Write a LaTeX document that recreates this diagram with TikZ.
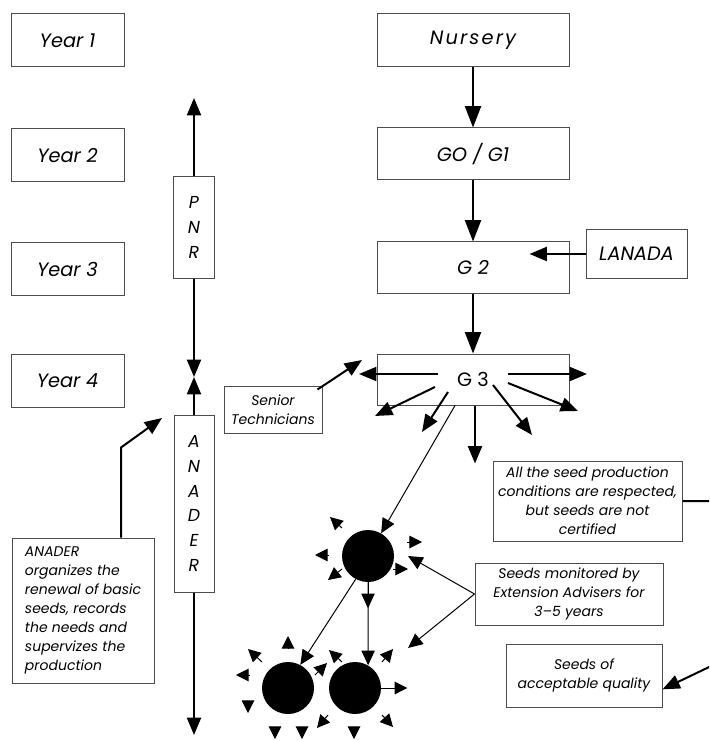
\documentclass[tikz,border=0pt]{standalone}
\usepackage{fontspec}
\setmainfont{Poppins}
\usetikzlibrary{arrows.meta}

\newcommand\bigtxt{\fontsize{14.5pt}{17pt}\selectfont\itshape}
\newcommand\smalltxt{\fontsize{10.5pt}{14.25pt}\selectfont\itshape}
\newcommand\lettxt{\fontsize{13pt}{18.5pt}\selectfont\itshape}

\begin{document}
\begin{tikzpicture}[x=0.75pt,y=0.75pt,yscale=-1,xscale=1,
  box/.style={draw=black!70, line width=0.75pt, inner sep=0pt, align=center, font=\bigtxt},
  yearbox/.style={box, minimum width=84.75pt, minimum height=39.75pt},
  genbox/.style={box, minimum width=144pt, minimum height=39pt},
  notebox/.style={box, font=\smalltxt},
  flow/.style={line width=1.5pt, -{Triangle[length=16pt,width=12pt]}},
  arr/.style={line width=1.5pt, -{Triangle[length=13pt,width=10.5pt]}},
  thinarr/.style={line width=0.75pt, -{Triangle[length=11pt,width=10pt]}},
  spark/.style={line width=0.75pt, -{Triangle[length=9.5pt,width=9.5pt]}},
  seed/.style={circle, fill=black, minimum size=39pt, inner sep=0pt}]
\useasboundingbox (0,0) rectangle (709,741);
\clip (0,0) rectangle (709,741);

% Year boxes
\node[yearbox] (year1) at (67.5,40.5) {Year 1};
\node[yearbox] (year2) at (67.5,155.5) {Year 2};
\node[yearbox] (year3) at (67.5,269) {Year 3};
\node[yearbox] (year4) at (67.5,380.5) {Year 4};

% Generations
\node[genbox, minimum height=39.75pt] (nursery) at (473,40.5) {\addfontfeature{LetterSpace=11}Nursery};
\node[genbox] (g01) at (473,154) {GO / G1};
\node[genbox, minimum height=38.25pt] (g2) at (473,267.5) {G 2};
\node[genbox, minimum height=38.25pt, font=\bigtxt\upshape] (g3) at (473,379.5) {G 3};
\node[box, minimum width=75.75pt, minimum height=36pt] (lanada) at (636.5,254) {LANADA};

% PNR / ANADER
\node[box, font=\lettxt, minimum width=30.75pt, minimum height=75.75pt] (pnr) at (194,227.5) {P\\N\\R};
\node[box, font=\lettxt, minimum width=30pt, minimum height=132.75pt] (anader) at (194,503.5) {A\\N\\A\\D\\E\\R};

% Text Node
\node[notebox, minimum width=73.5pt, minimum height=35.25pt] (senior) at (273,409.5) {Senior\\Technicians};
% Text Node
\node[notebox, align=left, minimum width=106.5pt, minimum height=108.75pt] (plan) at (83,610.5) {ANADER\\organizes the\\renewal of basic\\seeds, records\\the needs and\\supervizes the\\production};
% Text Node
\node[notebox, minimum width=141.75pt, minimum height=60pt] (allseed) at (587.5,501) {All the seed production\\conditions are respected,\\but seeds are not\\certified};
% Text Node
\node[notebox, minimum width=141pt, minimum height=46.5pt] (monitor) at (569,594) {Seeds monitored by\\Extension Advisers for\\3--5 years};
% Text Node
\node[notebox, minimum width=117pt, minimum height=47.25pt] (quality) at (584,675.5) {Seeds of\\acceptable quality};

% Seed lots
\node[seed] (c1) at (368,556) {};
\node[seed] (c2) at (288,688) {};
\node[seed] (c3) at (355,688) {};

\coordinate (pnrtop) at (194,98);
\coordinate (meet) at (194,377);
\coordinate (anaderend) at (194,735);
\coordinate (plantip) at (162,418);
\coordinate (seniortip) at (362,360);
\coordinate (mon1) at (408,556);
\coordinate (mon2) at (408,648);
\coordinate (offedge) at (730,657);

%Straight Lines
\draw[flow] (nursery) -- (g01);
\draw[flow] (g01) -- (g2);
\draw[flow] (g2) -- (g3);
\draw[arr] (lanada.west) -- ++(-56,0);
\draw[arr] (pnr.north) -- (pnrtop);
\draw[arr] (pnr.south) -- (meet);
\draw[arr] (anader.north) -- (meet);
\draw[arr] (anader.south) -- (anaderend);
\draw[arr] ([xshift=28.5pt]plan.north) -- ++(0,-90) -- (plantip);
\draw[arr] (senior.north east) ++(-5,4) -- (seniortip);
\draw[arr] (allseed.east) -| (offedge) -- (quality.-10.5);

% out of G 3
\draw[arr] (g3.center) ++(-35,-5.5) -- ++(-79,0);
\draw[arr] (g3.center) ++(35,-5.5) -- ++(79,0);
\draw[arr] (g3.center) ++(-38,7.5) -- ++(-60,29);
\draw[arr] (g3.center) ++(-25,12.5) -- ++(-26,40);
\draw[arr] (g3.south) ++(2,0) -- ++(0,58);
\draw[arr] (g3.center) ++(20,5.5) -- ++(39,50);
\draw[arr] (g3.center) ++(35,3.5) -- ++(70,28);

\draw[thinarr] (g3.south) ++(-18,0) -- (c1);
\draw[thinarr] (c1.south) -- ++(0,26);
\draw[thinarr] (c1.south) -- (c3.60);
\draw[thinarr] (c1.242) -- (c2.62);
\draw[thinarr] (monitor.west) -- (mon1);
\draw[thinarr] (monitor.west) -- (mon2);

% small arrows round the seed lots
\draw[spark] (c1.center) ++(-26,-28) -- ++(-12,-11);
\draw[spark] (c1.center) ++(-39,-1) -- ++(-14,0);
\draw[spark] (c1.center) ++(-26,13) -- ++(-14,11);
\draw[spark] (c1.center) ++(39,-14) -- ++(15,0);
\draw[spark] (c1.center) ++(25,13) -- ++(15,0);

\draw[spark] (c2.center) ++(0,-40) -- ++(0,-12);
\draw[spark] (c2.center) ++(-26,-26) -- ++(-14,-13);
\draw[spark] (c2.center) ++(-38,-13) -- ++(-14,0);
\draw[spark] (c2.center) ++(-40,13) -- ++(0,12);
\draw[spark] (c2.center) ++(-13,39) -- ++(0,12);
\draw[spark] (c2.center) ++(14,39) -- ++(0,12);
\draw[spark] (c2.center) ++(27,-13) -- ++(12,-12);
\draw[spark] (c2.center) ++(40,27) -- ++(-11,13);

\draw[spark] (c3.center) ++(-13,-26) -- ++(-13,-12);
\draw[spark] (c3.center) ++(27,-26) -- ++(11,-13);
\draw[spark] (c3.east) -- ++(26,0);
\draw[spark] (c3.center) ++(27,27) -- ++(11,12);
\draw[spark] (c3.center) ++(-1,39) -- ++(0,12);

\end{tikzpicture}
\end{document}
